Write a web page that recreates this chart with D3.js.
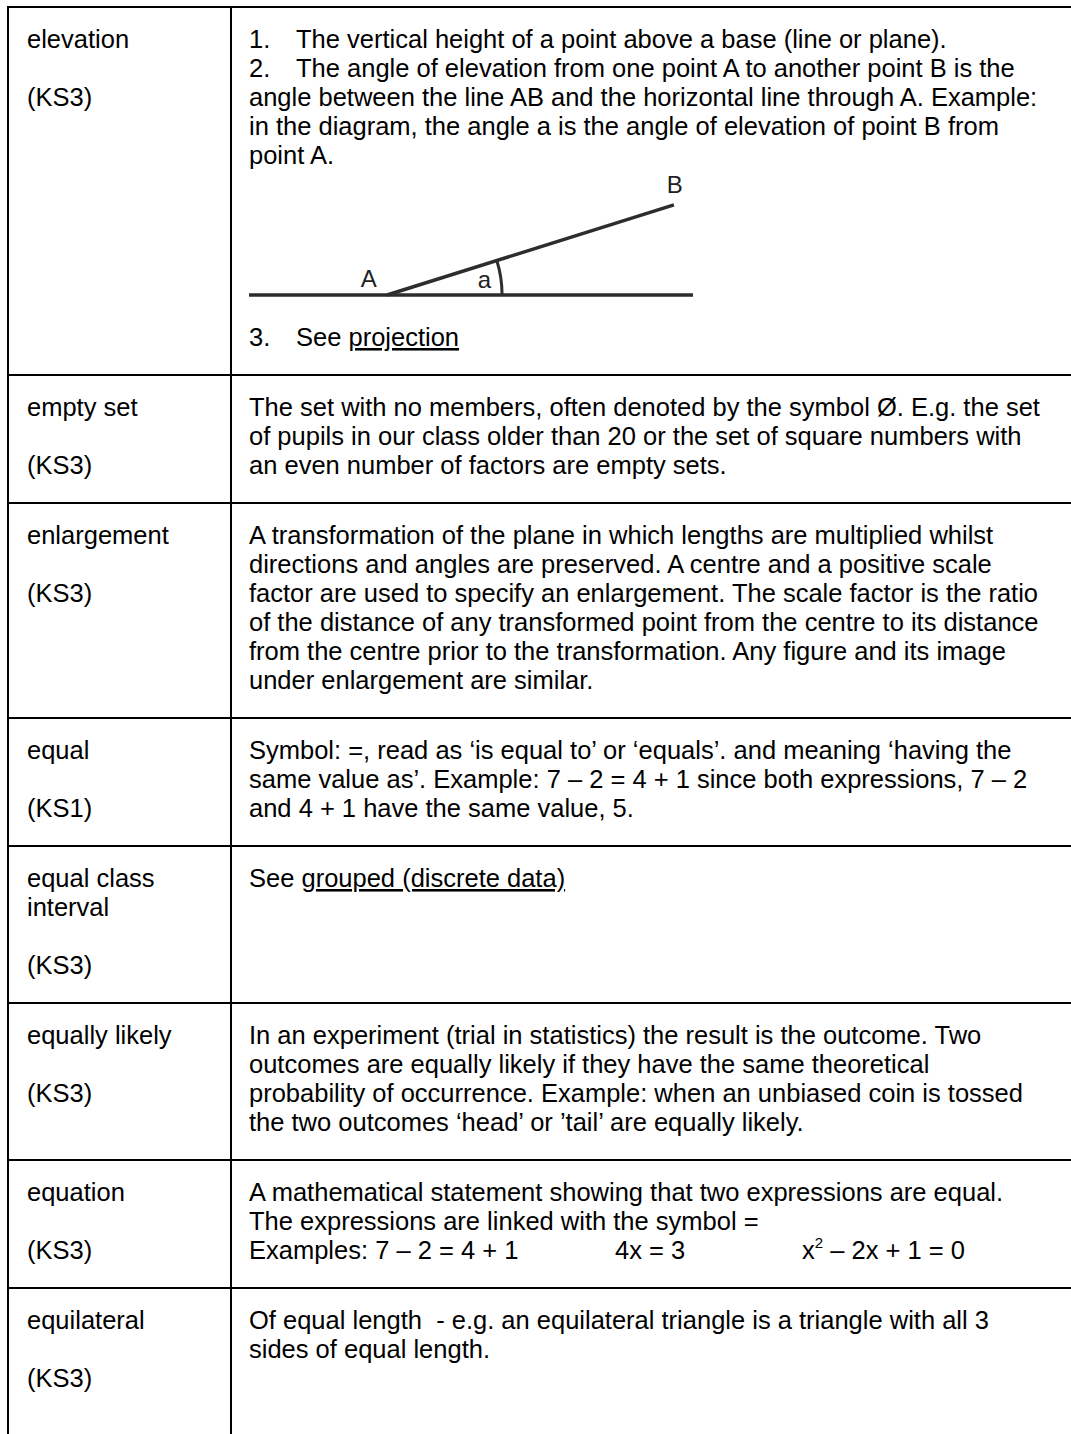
<!DOCTYPE html>
<html lang="en">
<head>
    <meta charset="UTF-8">
    <title>Glossary - E</title>
    <script src="https://cdn.jsdelivr.net/npm/d3@7"></script>
    <style>
        body { margin: 0; background: #fff; overflow: hidden; }
        text { font-family: Arial, "Liberation Sans", sans-serif; fill: #000; white-space: pre; }
    </style>
</head>
<body>
<script>
    // left column: term, blank line, key stage
    const terms = [
        ['elevation', '', '(KS3)'],
        ['empty set', '', '(KS3)'],
        ['enlargement', '', '(KS3)'],
        ['equal', '', '(KS1)'],
        ['equal class', 'interval', '', '(KS3)'],
        ['equally likely', '', '(KS3)'],
        ['equation', '', '(KS3)'],
        ['equilateral', '', '(KS3)']
    ]
    // right column, one string per printed line
    // \t = tab, _x_ = underlined, ^2 = superscript, [figure] = the elevation sketch
    const definitions = [
        ['1.\tThe vertical height of a point above a base (line or plane).',
            '2.\tThe angle of elevation from one point A to another point B is the',
            'angle between the line AB and the horizontal line through A. Example:',
            'in the diagram, the angle a is the angle of elevation of point B from',
            'point A.',
            '[figure]',
            '3.\tSee _projection_'],
        ['The set with no members, often denoted by the symbol Ø. E.g. the set',
            'of pupils in our class older than 20 or the set of square numbers with',
            'an even number of factors are empty sets.'],
        ['A transformation of the plane in which lengths are multiplied whilst',
            'directions and angles are preserved. A centre and a positive scale',
            'factor are used to specify an enlargement. The scale factor is the ratio',
            'of the distance of any transformed point from the centre to its distance',
            'from the centre prior to the transformation. Any figure and its image',
            'under enlargement are similar.'],
        ['Symbol: =, read as ‘is equal to’ or ‘equals’. and meaning ‘having the',
            'same value as’. Example: 7 – 2 = 4 + 1 since both expressions, 7 – 2',
            'and 4 + 1 have the same value, 5.'],
        ['See _grouped (discrete data)_'],
        ['In an experiment (trial in statistics) the result is the outcome. Two',
            'outcomes are equally likely if they have the same theoretical',
            'probability of occurrence. Example: when an unbiased coin is tossed',
            'the two outcomes ‘head’ or ’tail’ are equally likely.'],
        ['A mathematical statement showing that two expressions are equal.',
            'The expressions are linked with the symbol =',
            'Examples: 7 – 2 = 4 + 1\t4x = 3\tx^2 – 2x + 1 = 0'],
        ['Of equal length  - e.g. an equilateral triangle is a triangle with all 3',
            'sides of equal length.']
    ]
    // elevation sketch, base line runs from 0 to 100
    const figBase = [[0, 0], [100, 0]]
    const figRay = [[31.1, 0], [95.7, 20.3]]
    const figArcRadius = 25.9
    const figLabels = [
        {t: 'A', x: 27.0, y: 1.8},
        {t: 'a', x: 53.0, y: 1.6},
        {t: 'B', x: 95.9, y: 23.0}
    ]

    const [W, H] = [1071, 1434]
    const tableTop = 7, tableLeft = 8, divider = 231
    const termX = 27, defX = 249
    const lineH = 29, firstLine = 41, lastPad = 29
    const figAdvance = 153
    const tabStops = [47, 366, 553]

    const svg = d3.select('body').append('svg')
        .attr('width', W)
        .attr('height', H)

    // how far down each right-column entry sits from the first baseline
    const offsets = defs => {
        let y = 0
        return defs.map((d, i) => {
            if (i > 0) y += d === '[figure]' ? figAdvance : lineH
            return y
        })
    }
    const rowHeights = terms.map((t, i) => {
        const right = d3.max(offsets(definitions[i]))
        const leftH = (t.length - 1) * lineH
        return firstLine + Math.max(right, leftH) + lastPad
    })
    const rowTops = [tableTop, ...Array.from(d3.cumsum(rowHeights), v => v + tableTop)]
    // the last row runs off the page
    rowTops[rowTops.length - 1] = Math.max(rowTops[rowTops.length - 1], H + 5)

    const writeLine = (g, str, x0, y) => {
        const text = g.append('text').attr('x', x0).attr('y', y)
            .style('font-size', '25.5px')
        let pending = {}
        const piece = s => {
            const ts = text.append('tspan').text(s)
            Object.entries(pending).forEach(([k, v]) => ts.attr(k, v))
            pending = {}
            return ts
        }
        str.split('\t').forEach((seg, si) => {
            if (si > 0) {
                const bb = text.node().getBBox()
                const used = bb.x + bb.width - x0
                const stop = tabStops.find(s => s > used + 3) || used + 20
                pending.x = x0 + stop
            }
            seg.split(/(_[^_]+_|\^\S)/).filter(p => p !== '').forEach(p => {
                if (p.startsWith('_')) {
                    piece(p.slice(1, -1)).style('text-decoration', 'underline')
                } else if (p.startsWith('^')) {
                    pending.dy = -11
                    piece(p.slice(1)).style('font-size', '15px')
                    pending.dy = 11
                } else {
                    piece(p)
                }
            })
        })
    }

    const drawFigure = (g, baseY) => {
        const fx = d3.scaleLinear().domain([0, 100]).range([defX, 693])
        const k = (693 - defX) / 100
        const lineY = baseY + 131
        const fy = d3.scaleLinear().domain([0, 100]).range([lineY, lineY - 100 * k])
        const line = d3.line().x(d => fx(d[0])).y(d => fy(d[1]))
        const fg = g.append('g').attr('class', 'figure')
        fg.append('path').attr('d', line(figBase))
            .attr('fill', 'none').attr('stroke', '#2d2d2d').attr('stroke-width', 3.5)
        fg.append('path').attr('d', line(figRay))
            .attr('fill', 'none').attr('stroke', '#2d2d2d').attr('stroke-width', 3.5)
        const ang = Math.atan2(figRay[1][1] - figRay[0][1], figRay[1][0] - figRay[0][0])
        const arc = d3.arc()
            .innerRadius(figArcRadius * k).outerRadius(figArcRadius * k)
            .startAngle(Math.PI / 2 - ang).endAngle(Math.PI / 2)
        fg.append('path')
            .attr('transform', `translate(${fx(figRay[0][0])},${fy(figRay[0][1])})`)
            .attr('d', arc())
            .attr('fill', 'none').attr('stroke', '#2d2d2d').attr('stroke-width', 3)
        fg.selectAll('text.lbl').data(figLabels).enter()
            .append('text').attr('class', 'lbl')
            .attr('x', d => fx(d.x))
            .attr('y', d => fy(d.y))
            .attr('text-anchor', 'middle')
            .style('font-size', '24px')
            .style('fill', '#222')
            .text(d => d.t)
    }

    // cell text
    terms.forEach((t, i) => {
        const g = svg.append('g').attr('class', 'row')
        const base = rowTops[i] + firstLine
        t.forEach((s, j) => {
            if (s) writeLine(g, s, termX, base + j * lineH)
        })
        const offs = offsets(definitions[i])
        definitions[i].forEach((d, j) => {
            if (d === '[figure]') drawFigure(g, base + offs[j - 1])
            else writeLine(g, d, defX, base + offs[j])
        })
    })

    // grid
    const grid = svg.append('g').attr('stroke', '#000').attr('stroke-width', 2)
    grid.selectAll('line.h').data(rowTops.slice(0, -1)).enter()
        .append('line').attr('class', 'h')
        .attr('x1', tableLeft).attr('x2', W + 5)
        .attr('y1', d => d).attr('y2', d => d)
    grid.selectAll('line.v').data([tableLeft, divider]).enter()
        .append('line').attr('class', 'v')
        .attr('x1', d => d).attr('x2', d => d)
        .attr('y1', tableTop - 1).attr('y2', rowTops[rowTops.length - 1])
</script>
</body>
</html>
